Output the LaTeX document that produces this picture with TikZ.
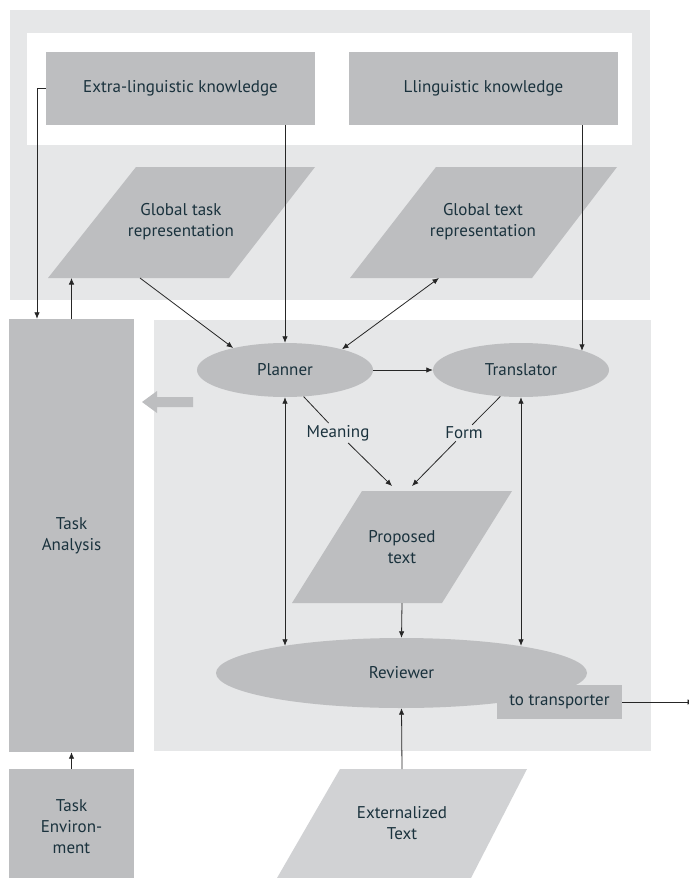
\documentclass[tikz,border=0pt]{standalone}
\usepackage{fontspec}
\setmainfont{PT Sans}
\usetikzlibrary{arrows.meta,shapes.geometric}
\definecolor{panelgray}{HTML}{E6E7E8}
\definecolor{boxgray}{HTML}{BDBEC0}
\definecolor{lightbox}{HTML}{D1D2D4}
\definecolor{inkteal}{HTML}{1A323D}
\begin{document}
\begin{tikzpicture}[x=1pt,y=-1pt,
  every node/.style={font=\fontsize{17}{21}\selectfont, text=inkteal, align=center},
  box/.style={rectangle, fill=boxgray, inner sep=0pt},
  oval/.style={ellipse, fill=boxgray, inner sep=0pt},
  label/.style={inner sep=2pt},
  conn/.style={draw=black!85, line width=0.8pt},
  tip/.style={-{Latex[length=6.5pt,width=5.5pt]}},
  bitip/.style={{Latex[length=6.5pt,width=5.5pt]}-{Latex[length=6.5pt,width=5.5pt]}}]
\useasboundingbox (0,0) rectangle (688,878);

% background panels
\fill[panelgray] (10,10) rectangle (650,300);
\fill[white] (27,33) rectangle (632,145);
\fill[panelgray] (154,320) rectangle (651,751);

% knowledge boxes
\node[box, minimum width=269pt, minimum height=73pt] (extra) at (180.5,88.5) {Extra-linguistic knowledge};
\node[box, minimum width=269pt, minimum height=73pt] (ling) at (483.5,88.5) {Llinguistic knowledge};

% representations (parallelograms)
\fill[boxgray] (136,167) -- (315,167) -- (229,278) -- (48,278) -- cycle;
\node (gtask) at (181,222) {Global task\\representation};
\fill[boxgray] (436,167) -- (617,167) -- (532,278) -- (350,278) -- cycle;
\node (gtext) at (483,222) {Global text\\representation};

% task analysis column and environment
\node[box, minimum width=125pt, minimum height=433pt] (taskA) at (71.5,535.5) {Task\\Analysis};
\node[box, minimum width=125pt, minimum height=116pt] (taskE) at (71.5,827) {Task\\Environ-\\ment};

% wide arrow pointing to the task analysis
\fill[boxgray] (142,402) -- (157,391) -- (157,397) -- (193,397) -- (193,407) -- (157,407) -- (157,413) -- cycle;

% processes
\node[oval, minimum width=176pt, minimum height=54pt] (planner) at (285,370) {Planner};
\node[oval, minimum width=176pt, minimum height=54pt] (translator) at (521,370) {Translator};
\fill[boxgray] (362,491) -- (512,491) -- (442,603) -- (292,603) -- cycle;
\node (proposed) at (402,547) {Proposed\\text};
\node[oval, minimum width=371pt, minimum height=70pt] (reviewer) at (401.5,673) {Reviewer};
\node[box, minimum width=125pt, minimum height=34pt] (transp) at (559.5,702) {to transporter};
\fill[lightbox] (340,769) -- (527,769) -- (471,878) -- (277,878) -- cycle;
\node (exttext) at (402,823) {Externalized\\Text};

\node[label] (meaning) at (338,433) {Meaning};
\node[label] (form) at (464,433) {Form};

% connector end points
\coordinate (leftcol) at (37,0);
\coordinate (gtaskOut) at (140,278);
\coordinate (gtextIn) at (439,278);
\coordinate (extraDrop) at (285,125);
\coordinate (lingDrop) at (582,125);
\coordinate (propIn1) at (392,486);
\coordinate (propIn2) at (412,486);
\coordinate (propOut) at (402,603);
\coordinate (extIn) at (402,769);
\coordinate (exitPt) at (694,702);

% connectors
\draw[conn, tip] (extra.west) -| (taskA.north -| leftcol);
\draw[conn, tip] (taskA.north) -- (taskA.north |- gtaskOut);
\draw[conn, tip] (taskE.north) -- (taskA.south);
\draw[conn, tip] (gtaskOut) -- (planner.157);
\draw[conn, tip] (extraDrop) -- (planner.north);
\draw[conn, bitip] (planner.20) -- (gtextIn);
\draw[conn, tip] (lingDrop) -- (lingDrop |- translator.17.7);
\draw[conn, tip] (planner.east) -- (translator.west);
\draw[conn] (planner.-55) -- (meaning);
\draw[conn, tip] (meaning) -- (propIn1);
\draw[conn] (translator.232) -- (form);
\draw[conn, tip] (form) -- (propIn2);
\draw[conn, bitip] (planner.south) -- (planner.south |- reviewer.167);
\draw[conn, bitip] (translator.south) -- (translator.south |- reviewer.13);
\draw[conn, tip] (propOut) -- (reviewer.north);
\draw[conn, tip] (extIn) -- (reviewer.south);
\draw[conn, tip] (transp.east) -- (exitPt);
\end{tikzpicture}
\end{document}
